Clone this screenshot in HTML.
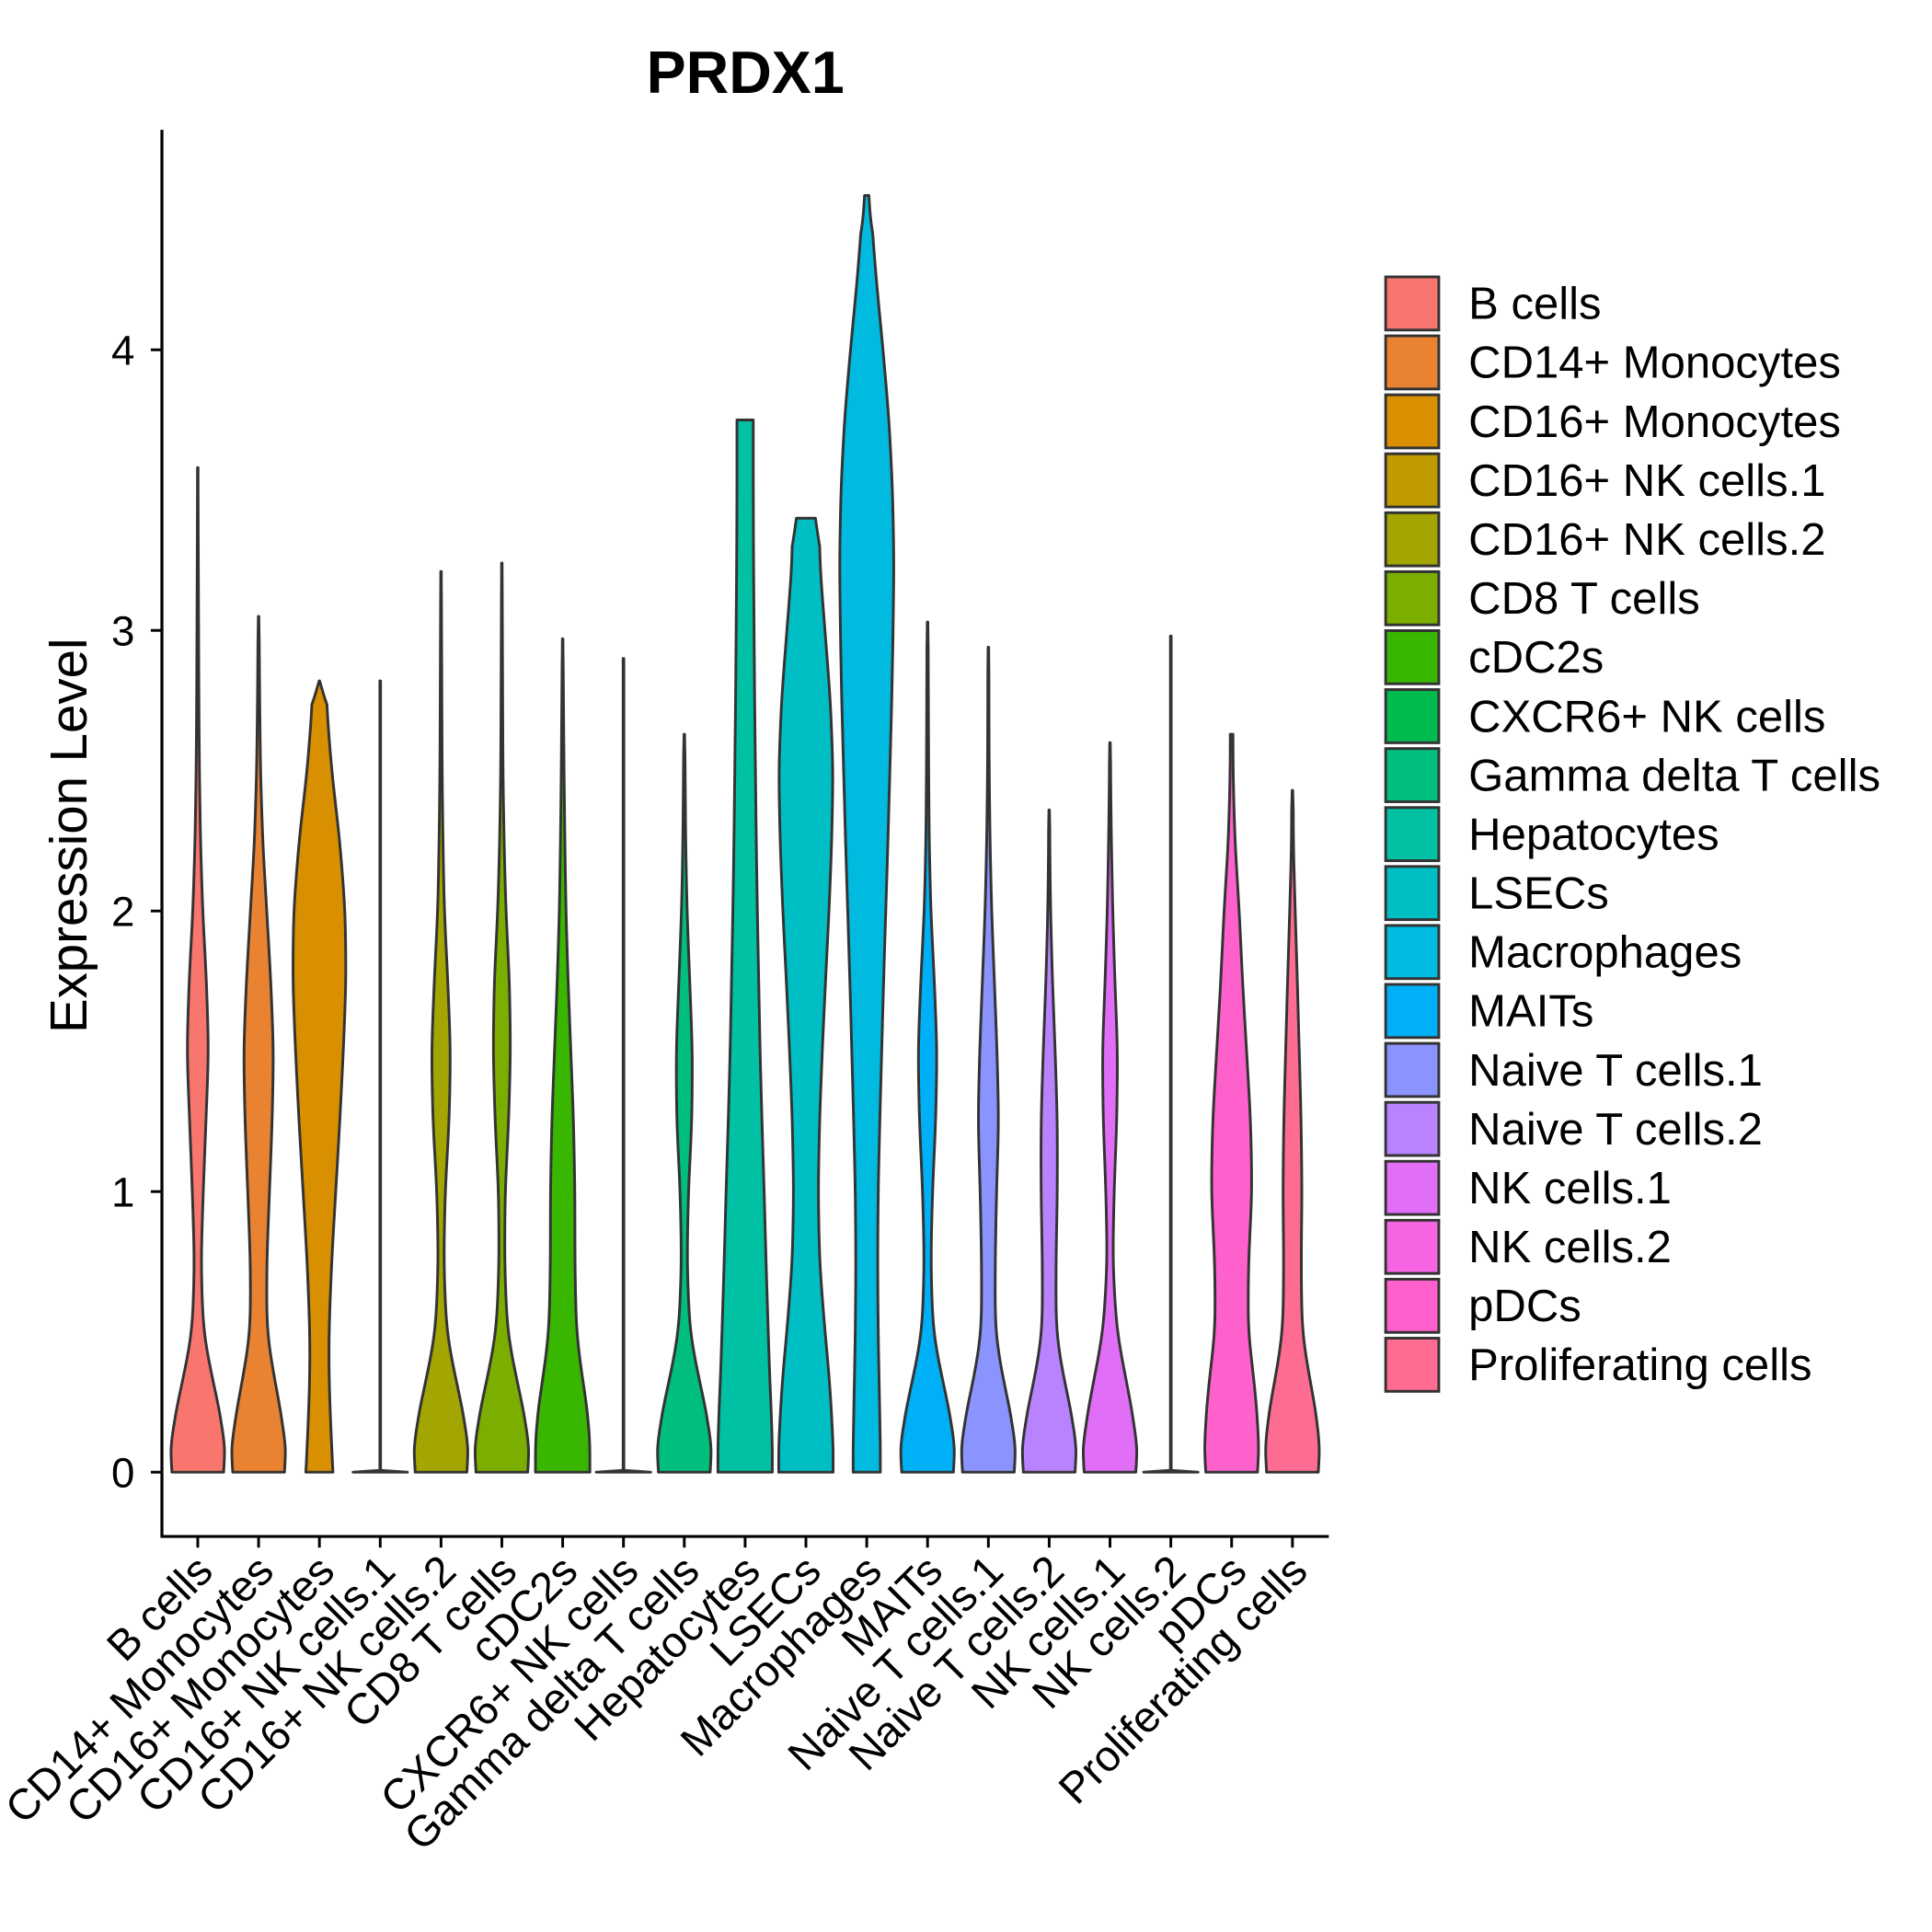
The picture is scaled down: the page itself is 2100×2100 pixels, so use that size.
<!DOCTYPE html>
<html><head><meta charset="utf-8"><style>
html,body{margin:0;padding:0;background:#fff}
svg{display:block;font-family:"Liberation Sans",Arial,sans-serif}
</style></head><body>
<svg id="chart" width="2100" height="2100" viewBox="0 0 1563 1563" xmlns="http://www.w3.org/2000/svg">
<text x="603" y="75" text-anchor="middle" font-size="48" font-weight="bold">PRDX1</text>
<text transform="translate(70,676) rotate(-90)" text-anchor="middle" font-size="42">Expression Level</text>
<g id="plot"></g>
<g id="legend"></g>
</svg>
<script>
const categories = ["B cells","CD14+ Monocytes","CD16+ Monocytes","CD16+ NK cells.1","CD16+ NK cells.2","CD8 T cells","cDC2s","CXCR6+ NK cells","Gamma delta T cells","Hepatocytes","LSECs","Macrophages","MAITs","Naive T cells.1","Naive T cells.2","NK cells.1","NK cells.2","pDCs","Proliferating cells"];
const colors = ["#F8766D","#EA8331","#D89000","#C09B00","#A3A500","#7CAE00","#39B600","#00BB4E","#00BF7D","#00C1A3","#00BFC4","#00BAE0","#00B0F6","#8B93FF","#B983FF","#E06EF6","#F564E3","#FF61CC","#FF6C91"];
const maxValues = [3.58,3.05,2.82,2.82,3.21,3.24,2.97,2.9,2.63,3.75,3.4,4.55,3.03,2.94,2.36,2.6,2.98,2.63,2.43];
const densityLevels = [0,0.03,0.1,0.2,0.35,0.5,0.75,1,1.25,1.5,1.75,2,2.25,2.5,2.75,3,3.25,3.5,3.75,4,4.25,4.5];
const densityWidths = [
 [0.95,0.97,1,0.85,0.5,0.2,0.12,0.2,0.3,0.4,0.32,0.18,0.1,0.06,0.04,0.03,0.02,0.01],
 [0.95,0.97,1,0.85,0.55,0.3,0.3,0.4,0.5,0.55,0.45,0.3,0.15,0.07,0.04,0.02],
 [0.5,0.48,0.45,0.4,0.35,0.35,0.45,0.6,0.75,0.88,0.98,0.95,0.75,0.45,0.25],
 [1,0.01,0.01,0.01,0.01,0.01,0.01,0.01,0.01,0.01,0.01,0.01,0.01,0.01,0.01],
 [0.95,0.97,1,0.85,0.5,0.2,0.1,0.15,0.3,0.35,0.25,0.12,0.07,0.04,0.03,0.02,0.01],
 [0.95,0.97,1,0.85,0.5,0.2,0.1,0.12,0.25,0.32,0.28,0.15,0.08,0.04,0.03,0.02,0.01],
 [1,1,1,0.95,0.7,0.5,0.45,0.45,0.4,0.3,0.2,0.12,0.08,0.05,0.03,0.01],
 [1,0.01,0.01,0.01,0.01,0.01,0.01,0.01,0.01,0.01,0.01,0.01,0.01,0.01,0.01],
 [0.95,0.97,1,0.85,0.5,0.2,0.1,0.15,0.28,0.3,0.2,0.1,0.05,0.03,0.01],
 [1,1,1,0.97,0.9,0.85,0.77,0.7,0.62,0.55,0.5,0.45,0.41,0.38,0.35,0.33,0.31,0.3,0.3],
 [1,1,1,0.95,0.85,0.7,0.5,0.45,0.5,0.6,0.72,0.85,0.95,1,0.9,0.7,0.5],
 [0.5,0.5,0.5,0.48,0.45,0.42,0.4,0.42,0.48,0.55,0.62,0.7,0.78,0.85,0.92,0.97,1,0.95,0.82,0.6,0.35,0.15],
 [0.95,0.97,1,0.85,0.5,0.2,0.12,0.18,0.3,0.35,0.25,0.12,0.06,0.04,0.03,0.02],
 [0.95,0.97,1,0.85,0.5,0.25,0.25,0.3,0.38,0.32,0.22,0.12,0.06,0.03,0.02],
 [0.95,0.97,1,0.85,0.5,0.25,0.25,0.3,0.3,0.22,0.12,0.05,0.02],
 [0.95,0.97,1,0.85,0.55,0.25,0.1,0.15,0.25,0.28,0.18,0.1,0.05,0.02],
 [1,0.01,0.01,0.01,0.01,0.01,0.01,0.01,0.01,0.01,0.01,0.01,0.01,0.01,0.01],
 [0.95,0.97,1,0.95,0.8,0.6,0.62,0.75,0.7,0.55,0.4,0.28,0.12,0.05],
 [0.95,0.97,1,0.9,0.6,0.35,0.32,0.35,0.32,0.25,0.18,0.1,0.03]
];
const topWidths = [0,0,0,0,0,0,0,0,0,0.3,0.35,0.08,0,0,0,0,0,0.15,0];
const yTicks = [0,1,2,3,4];

const NS="http://www.w3.org/2000/svg";
const X0=131, X1=1075, YB=1243, YT=105;
const yScale=v=>1191-v*227;
const xScale=i=>160+i*49.2;
const HALF=22;
const plot=document.getElementById('plot');
const legend=document.getElementById('legend');
function mk(tag,attrs,parent){const e=document.createElementNS(NS,tag);for(const k in attrs)e.setAttribute(k,attrs[k]);parent.appendChild(e);return e;}

function linWidth(i,v){
  const w=densityWidths[i];
  const n=w.length;
  if(v>=densityLevels[n-1]) return w[n-1];
  let k=0;while(densityLevels[k+1]<v)k++;
  const t=(v-densityLevels[k])/(densityLevels[k+1]-densityLevels[k]);
  return w[k]*(1-t)+w[k+1]*t;
}

categories.forEach((c,i)=>{
  const cx=xScale(i), mx=maxValues[i];
  const flat = densityWidths[i][1]<0.05;
  const N=400; const vs=[], ws=[];
  for(let s=0;s<=N;s++){ const v=mx*s/N; vs.push(v); ws.push(linWidth(i,v)); }
  let sm=ws.slice();
  if(!flat){
    const px=mx*227/N;
    const sig=Math.max(1,16/px), r=Math.round(sig*2.5);
    sm=ws.map((_,j)=>{
      const sg = j*px<40 ? Math.max(0.5,sig*(j*px)/40) : sig;
      let a=0,b=0;
      for(let d=-r;d<=r;d++){let jj=j+d; if(jj<0) jj=-jj; if(jj>N) jj=2*N-jj; const g=Math.exp(-(d*d)/(2*sg*sg));a+=ws[jj]*g;b+=g;}
      return a/b;});
    const tw=topWidths[i];
    for(let j=0;j<=N;j++){const f=vs[j]/mx; if(f>0.97){const t=(f-0.97)/0.03; sm[j]=sm[j]*(1-t)+Math.min(sm[j],Math.max(tw,0.01))*t;}}
  }
  const left=[], right=[];
  if(flat){
    const yy=yScale(0), ty=yScale(mx);
    right.push([cx+HALF,yy],[cx+0.3,yy-1.5],[cx+0.3,ty]);
    left.push([cx-HALF,yy],[cx-0.3,yy-1.5],[cx-0.3,ty]);
  } else {
    for(let j=0;j<=N;j++){ const w=Math.max(0.005,sm[j]); left.push([cx-w*HALF,yScale(vs[j])]); right.push([cx+w*HALF,yScale(vs[j])]); }
  }
  const pts=right.concat(left.reverse());
  const v=mk('path',{d:'M'+pts.map(p=>p[0].toFixed(2)+','+p[1].toFixed(2)).join('L')+'Z',fill:colors[i],stroke:'#333',"stroke-width":2.2,"stroke-linejoin":"round"},plot);
  
  
  const tk=mk('line',{x1:cx,x2:cx,y1:YB,y2:YB+9,stroke:'#000',"stroke-width":2.2},plot);
  
  
  const tl=mk('text',{transform:`translate(${cx+14},${YB+30}) rotate(-45)`,"text-anchor":"end","font-size":35},plot);
  tl.textContent=c;
  
  
  const ly=224+i*47.7;
  const key=mk('rect',{x:1121,y:ly,width:43,height:43,fill:colors[i],stroke:'#333',"stroke-width":2.2},legend);
  
  
  const lt=mk('text',{x:1188,y:ly+34,"font-size":36.5},legend);
  lt.textContent=c;
  
  
});
yTicks.forEach(t=>{
  const y=yScale(t);
  const l=mk('line',{x1:X0-9,x2:X0,y1:y,y2:y,stroke:'#000',"stroke-width":2.2},plot);
  
  
  const tx=mk('text',{x:X0-22,y:y+12,"text-anchor":"end","font-size":34},plot);
  tx.textContent=t;
  
  
});
const ya=mk('line',{x1:X0,x2:X0,y1:YT,y2:YB+1,stroke:'#000',"stroke-width":2.4},plot);


const xa=mk('line',{x1:X0-1,x2:X1,y1:YB,y2:YB,stroke:'#000',"stroke-width":2.4},plot);


</script>
</body></html>
